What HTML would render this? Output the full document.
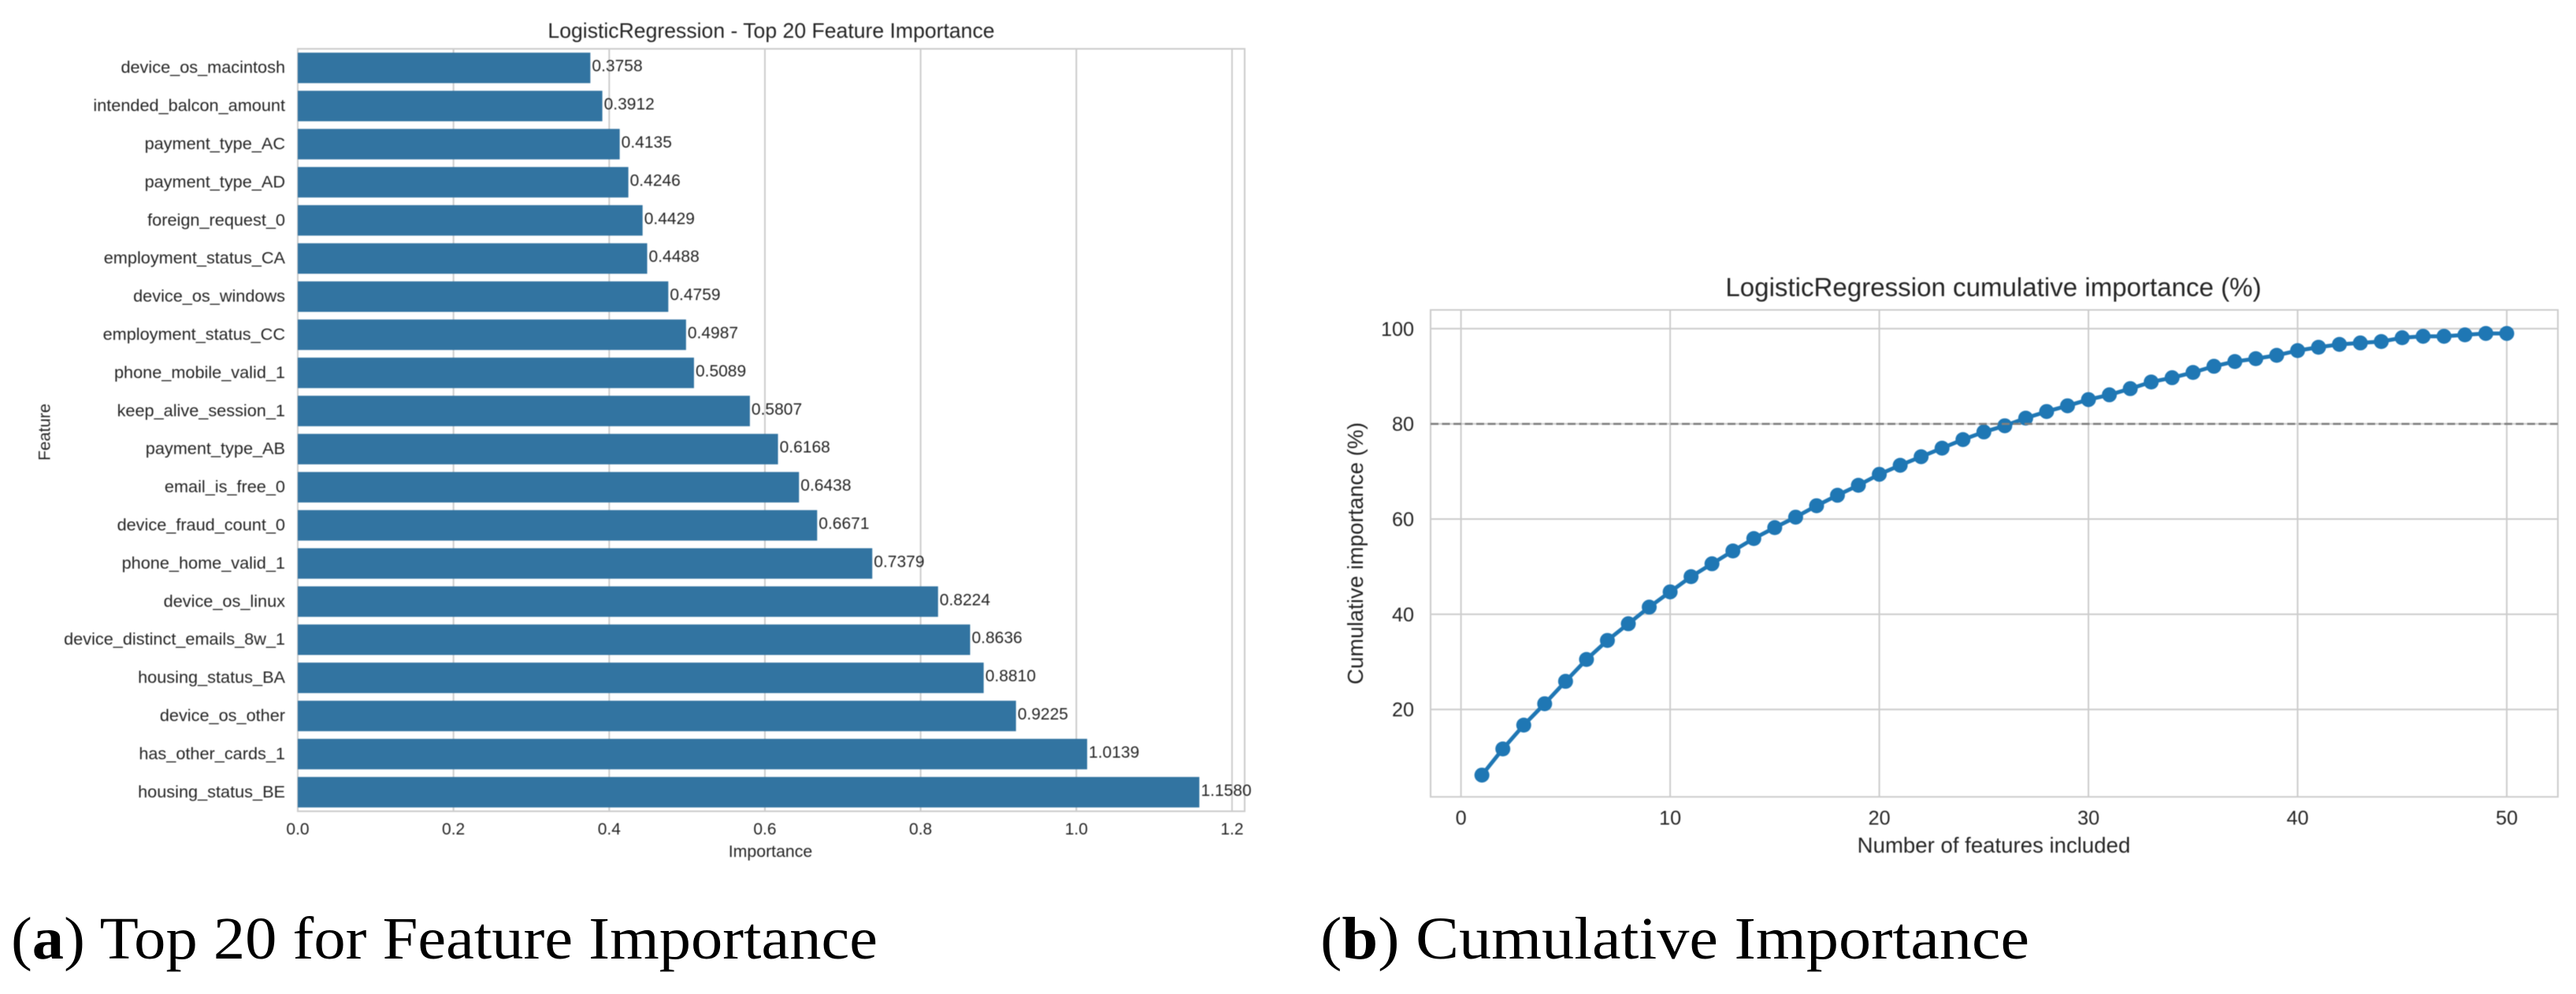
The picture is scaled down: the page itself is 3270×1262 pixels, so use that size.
<!DOCTYPE html>
<html lang="en">
<head>
<meta charset="utf-8">
<title>LogisticRegression feature importance</title>
<style>
html,body{margin:0;padding:0;background:#fff;width:3270px;height:1262px;overflow:hidden}
svg{display:block}
text{font-family:"Liberation Sans",Arial,sans-serif;fill:#262626}
.cap{font-family:"Liberation Serif",serif;fill:#000;font-size:76px}
#charts{filter:blur(0.6px)}
</style>
</head>
<body>
<svg id="root" xmlns="http://www.w3.org/2000/svg" width="3270" height="1262" viewBox="0 0 3270 1262">
  <g id="charts">
    <g id="chartA">
      <text x="979" y="48" text-anchor="middle" font-size="26.6">LogisticRegression - Top 20 Feature Importance</text>
      <text x="978" y="1088" text-anchor="middle" font-size="21.3">Importance</text>
      <text transform="translate(63.5,548.6) rotate(-90)" text-anchor="middle" font-size="21">Feature</text>
    </g>
    <g id="chartB">
      <text x="2530.5" y="376" text-anchor="middle" font-size="33.1">LogisticRegression cumulative importance (%)</text>
      <text x="2531" y="1082.7" text-anchor="middle" font-size="27.6">Number of features included</text>
      <text transform="translate(1730,702.6) rotate(-90)" text-anchor="middle" font-size="27.6">Cumulative importance (%)</text>
    </g>
  </g>
  <text class="cap" x="14" y="1217" textLength="1100" lengthAdjust="spacingAndGlyphs">(<tspan font-weight="bold">a</tspan>) Top 20 for Feature Importance</text>
  <text class="cap" x="1676" y="1217" textLength="900" lengthAdjust="spacingAndGlyphs">(<tspan font-weight="bold">b</tspan>) Cumulative Importance</text>
</svg>
<script>
const featureNames = ["device_os_macintosh","intended_balcon_amount","payment_type_AC","payment_type_AD","foreign_request_0","employment_status_CA","device_os_windows","employment_status_CC","phone_mobile_valid_1","keep_alive_session_1","payment_type_AB","email_is_free_0","device_fraud_count_0","phone_home_valid_1","device_os_linux","device_distinct_emails_8w_1","housing_status_BA","device_os_other","has_other_cards_1","housing_status_BE"];
const featureValues = [0.3758,0.3912,0.4135,0.4246,0.4429,0.4488,0.4759,0.4987,0.5089,0.5807,0.6168,0.6438,0.6671,0.7379,0.8224,0.8636,0.8810,0.9225,1.0139,1.1580];
const barTicks = [0,0.2,0.4,0.6,0.8,1.0,1.2];
const cumulativeValues = [6.2,11.7,16.7,21.2,25.9,30.5,34.5,38.0,41.5,44.7,47.9,50.6,53.3,55.9,58.2,60.4,62.8,65.0,67.1,69.4,71.3,73.1,74.9,76.7,78.3,79.6,81.2,82.6,83.8,85.1,86.1,87.4,88.8,89.7,90.8,92.1,93.1,93.7,94.4,95.4,96.1,96.7,97.0,97.3,98.1,98.4,98.4,98.7,99.0,99.0];
const lineXTicks = [0,10,20,30,40,50];
const lineYTicks = [20,40,60,80,100];
const thresholdValue = [80];

const NS = "http://www.w3.org/2000/svg";
function mk(parent, tag, attrs, txt) {
  const e = document.createElementNS(NS, tag);
  for (const k in attrs) e.setAttribute(k, attrs[k]);
  if (txt !== undefined) e.textContent = txt;
  parent.appendChild(e);
  return e;
}
const chartA = document.getElementById("chartA");
const chartB = document.getElementById("chartB");
const GRID = "#cccccc";

/* bar chart axes */
const A = {l:378, r:1580, t:62, b:1030};
const ax = v => A.l + v * 988.3;
const ay = i => A.t + (i + 0.5) * (A.b - A.t) / featureNames.length;
const barH = 0.8 * (A.b - A.t) / featureNames.length;

const frameA = mk(chartA, "rect", {x:A.l, y:A.t, width:A.r - A.l, height:A.b - A.t, fill:"none", stroke:GRID, "stroke-width":2});


barTicks.forEach(t => {
  const g = mk(chartA, "line", {x1:ax(t), x2:ax(t), y1:A.t, y2:A.b, stroke:GRID, "stroke-width":2});
  
  
  const l = mk(chartA, "text", {x:ax(t), y:1059.5, "text-anchor":"middle", "font-size":21}, t.toFixed(1));
  
  
});
featureValues.forEach((v, i) => {
  const b = mk(chartA, "rect", {x:ax(0), y:ay(i) - barH / 2, width:ax(v) - ax(0), height:barH, fill:"#3274a1"});
  
  
  const t = mk(chartA, "text", {x:ax(v) + 2, y:ay(i) + 4.5, "font-size":21}, v.toFixed(4));
  
  
  const n = mk(chartA, "text", {x:362, y:ay(i) + 6.5, "text-anchor":"end", "font-size":21.7}, featureNames[i]);
  
  
});

/* line chart axes */
const B = {l:1816, r:3247, t:393.5, b:1011.7};
const bx = v => 1854.6 + v * 26.55;
const by = v => 417.3 + (100 - v) * 6.0425;

lineXTicks.forEach(t => {
  const g = mk(chartB, "line", {x1:bx(t), x2:bx(t), y1:B.t, y2:B.b, stroke:GRID, "stroke-width":2});
  
  
  const l = mk(chartB, "text", {x:bx(t), y:1047, "text-anchor":"middle", "font-size":25.2}, String(t));
  
  
});
lineYTicks.forEach(t => {
  const g = mk(chartB, "line", {x1:B.l, x2:B.r, y1:by(t), y2:by(t), stroke:GRID, "stroke-width":2});
  
  
  const l = mk(chartB, "text", {x:1795, y:by(t) + 9, "text-anchor":"end", "font-size":25.2}, String(t));
  
  
});
const frameB = mk(chartB, "rect", {x:B.l, y:B.t, width:B.r - B.l, height:B.b - B.t, fill:"none", stroke:GRID, "stroke-width":2});



const series = mk(chartB, "polyline", {
  points: cumulativeValues.map((v, i) => bx(i + 1) + "," + by(v)).join(" "),
  fill: "none", stroke: "#1f77b4", "stroke-width": 5, "stroke-linejoin": "round"
});


cumulativeValues.forEach((v, i) => {
  const p = mk(chartB, "circle", {cx:bx(i + 1), cy:by(v), r:9.5, fill:"#1f77b4"});
  
  
});
const threshold = mk(chartB, "line", {x1:B.l, x2:B.r, y1:by(thresholdValue[0]), y2:by(thresholdValue[0]), stroke:"#808080", "stroke-width":2.6, "stroke-dasharray":"10 4.5"});


</script>
</body>
</html>
